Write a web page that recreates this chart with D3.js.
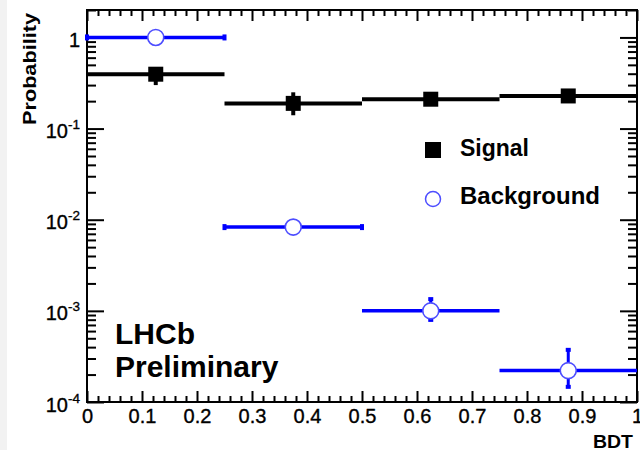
<!DOCTYPE html>
<html><head><meta charset="utf-8">
<script src="https://cdn.jsdelivr.net/npm/d3@7"></script>
<style>body{margin:0;background:#fff}svg{display:block}</style>
</head><body><svg id="c" width="640" height="450"></svg>
<script>
const binEdges = [0, 0.25, 0.5, 0.75, 1];
const signal = [0.395, 0.189, 0.21, 0.228];
const signalLow = [0.30, 0.14, 0.195, 0.215];
const signalHigh = [0.46, 0.25, 0.225, 0.24];
const background = [1.0, 0.0083, 0.001, 0.000221];
const backgroundLow = [1.0, 0.0083, 0.000776, 0.000143];
const backgroundHigh = [1.0, 0.0083, 0.00138, 0.000383];
const xTicks = [0, 0.1, 0.2, 0.3, 0.4, 0.5, 0.6, 0.7, 0.8, 0.9, 1];
const xTickLabels = ["0", "0.1", "0.2", "0.3", "0.4", "0.5", "0.6", "0.7", "0.8", "0.9", "1"];
const yTickExps = [0, -1, -2, -3, -4];
const legendLabels = ["Signal", "Background"];

const svg = d3.select("#c");
const L = 87, R = 637, T = 10, B = 402;
const x = d3.scaleLinear().domain([0, 1]).range([L, R]);
const y = d3.scaleLog().domain([1e-4, 2]).range([B, T]);
const font = "'Liberation Sans', Arial, Helvetica, sans-serif";

svg.append("rect").attr("x", 0).attr("y", 0).attr("width", 7).attr("height", 450).attr("fill", "#f2f2f2");

const xMinor = d3.range(0, 51).map(i => i / 50).filter(v => !xTicks.some(t => Math.abs(t - v) < 1e-9));
const yMajor = yTickExps.map(e => Math.pow(10, e));
const yMinor = [];
for (let e = -4; e <= 0; e++) for (let m = 2; m <= 9; m++) { const v = m * Math.pow(10, e); if (v <= 2.0001) yMinor.push(v); }

function styleAxis(g) { g.select(".domain").remove(); g.selectAll("line").attr("stroke", "#000").attr("stroke-width", 2); }

svg.append("g").attr("transform", `translate(0,${B})`).call(d3.axisBottom(x).tickValues(xMinor).tickSize(-6).tickFormat("")).call(styleAxis);
svg.append("g").attr("transform", `translate(0,${T})`).call(d3.axisTop(x).tickValues(xMinor).tickSize(-6).tickFormat("")).call(styleAxis);
svg.append("g").attr("transform", `translate(0,${T})`).call(d3.axisTop(x).tickValues(xTicks).tickSize(-11).tickFormat("")).call(styleAxis);
const xa = svg.append("g").attr("transform", `translate(0,${B})`)
  .call(d3.axisBottom(x).tickValues(xTicks).tickSize(-11).tickPadding(7).tickFormat((d, i) => xTickLabels[i]))
  .call(styleAxis);
xa.selectAll("text").attr("font-family", font).attr("font-size", 20).attr("fill", "#000")
  .attr("stroke", "#000").attr("stroke-width", 0.35);

svg.append("g").attr("transform", `translate(${L},0)`).call(d3.axisLeft(y).tickValues(yMinor).tickSize(-9).tickFormat("")).call(styleAxis);
svg.append("g").attr("transform", `translate(${L},0)`).call(d3.axisLeft(y).tickValues(yMajor).tickSize(-17).tickFormat("")).call(styleAxis);
svg.append("g").attr("transform", `translate(${R},0)`).call(d3.axisRight(y).tickValues(yMinor).tickSize(-9).tickFormat("")).call(styleAxis);
svg.append("g").attr("transform", `translate(${R},0)`).call(d3.axisRight(y).tickValues(yMajor).tickSize(-17).tickFormat("")).call(styleAxis);

yTickExps.forEach(e => {
  const t = svg.append("text").attr("x", 80).attr("y", y(Math.pow(10, e)) + 9.5)
    .attr("text-anchor", "end").attr("font-family", font).attr("font-size", 20).attr("fill", "#000")
    .attr("stroke", "#000").attr("stroke-width", 0.35);
  if (e === 0) { t.text("1"); }
  else {
    t.append("tspan").text("10");
    t.append("tspan").attr("font-size", 13.5).attr("dy", -9).text("-" + Math.abs(e));
  }
});

svg.append("rect").attr("x", L).attr("y", T).attr("width", R - L).attr("height", B - T)
  .attr("fill", "none").attr("stroke", "#000").attr("stroke-width", 2);

const bins = signal.map((s, i) => ({ x0: binEdges[i], x1: binEdges[i + 1], xc: (binEdges[i] + binEdges[i + 1]) / 2,
  s, sl: signalLow[i], sh: signalHigh[i], b: background[i], bl: backgroundLow[i], bh: backgroundHigh[i] }));

const plot = svg.append("g");
plot.selectAll(".sh").data(bins).join("line")
  .attr("x1", d => x(d.x0)).attr("x2", d => x(d.x1)).attr("y1", d => y(d.s)).attr("y2", d => y(d.s))
  .attr("stroke", "#000").attr("stroke-width", 4);
plot.selectAll(".sv").data(bins).join("line")
  .attr("x1", d => x(d.xc)).attr("x2", d => x(d.xc)).attr("y1", d => y(d.sl)).attr("y2", d => y(d.sh))
  .attr("stroke", "#000").attr("stroke-width", 4);
plot.selectAll(".sm").data(bins).join("rect")
  .attr("x", d => x(d.xc) - 7.5).attr("y", d => y(d.s) - 7.5).attr("width", 15).attr("height", 15).attr("fill", "#000");

const blue = "#0000ff";
plot.selectAll(".bh").data(bins).join("line")
  .attr("x1", d => x(d.x0)).attr("x2", d => x(d.x1)).attr("y1", d => y(d.b)).attr("y2", d => y(d.b))
  .attr("stroke", blue).attr("stroke-width", 3.5);
plot.selectAll(".bc").data(bins.filter((d, i) => i < 2)).join("g").each(function (d) {
  [d.x0, d.x1].forEach(xe => d3.select(this).append("rect").attr("x", x(xe) - 2).attr("y", y(d.b) - 3)
    .attr("width", 4).attr("height", 6).attr("fill", blue));
});
const withErr = bins.filter(d => d.bl !== d.bh);
plot.selectAll(".bv").data(withErr).join("line")
  .attr("x1", d => x(d.xc)).attr("x2", d => x(d.xc)).attr("y1", d => y(d.bl)).attr("y2", d => y(d.bh))
  .attr("stroke", blue).attr("stroke-width", 3);
plot.selectAll(".bcapH").data(withErr).join("rect")
  .attr("x", d => x(d.xc) - 2.5).attr("y", d => y(d.bh) - 1).attr("width", 5).attr("height", 4).attr("fill", blue);
plot.selectAll(".bcapL").data(withErr).join("rect")
  .attr("x", d => x(d.xc) - 2.5).attr("y", d => y(d.bl) - 3).attr("width", 5).attr("height", 4).attr("fill", blue);
plot.selectAll(".bm").data(bins).join("circle")
  .attr("cx", d => x(d.xc)).attr("cy", d => y(d.b)).attr("r", 8)
  .attr("fill", "#fff").attr("stroke", "#4d4dff").attr("stroke-width", 1.6);

svg.append("rect").attr("x", 425).attr("y", 142).attr("width", 16).attr("height", 16).attr("fill", "#000");
svg.append("circle").attr("cx", 433).attr("cy", 199).attr("r", 7.5).attr("fill", "#fff").attr("stroke", "#4d4dff").attr("stroke-width", 1.5);
svg.append("text").attr("x", 460).attr("y", 156).attr("font-family", font).attr("font-weight", "bold").attr("font-size", 23).text(legendLabels[0]);
svg.append("text").attr("x", 460).attr("y", 204).attr("font-family", font).attr("font-weight", "bold").attr("font-size", 23)
  .attr("textLength", 140).attr("lengthAdjust", "spacingAndGlyphs").text(legendLabels[1]);

svg.append("text").attr("x", 115).attr("y", 344).attr("font-family", font).attr("font-weight", "bold").attr("font-size", 30).text("LHCb");
svg.append("text").attr("x", 115).attr("y", 377).attr("font-family", font).attr("font-weight", "bold").attr("font-size", 30).text("Preliminary");

svg.append("text").attr("transform", "translate(36,13) rotate(-90)").attr("text-anchor", "end")
  .attr("font-family", font).attr("font-weight", "bold").attr("font-size", 19)
  .attr("textLength", 112).attr("lengthAdjust", "spacingAndGlyphs").text("Probability");
svg.append("text").attr("x", 633).attr("y", 448).attr("text-anchor", "end")
  .attr("font-family", font).attr("font-weight", "bold").attr("font-size", 19)
  .attr("textLength", 40).attr("lengthAdjust", "spacingAndGlyphs").text("BDT");
</script></body></html>
